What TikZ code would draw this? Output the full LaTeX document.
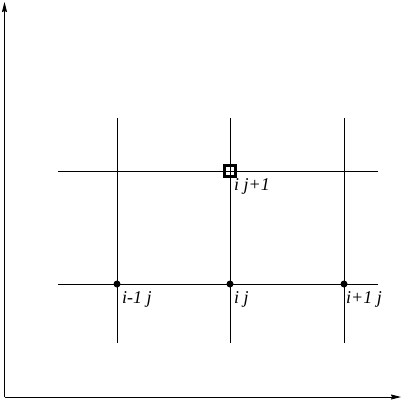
\documentclass[tikz,border=0pt]{standalone}
\usepackage{fontspec}
\setmainfont{Liberation Serif}
\usetikzlibrary{arrows.meta}
\begin{document}
\begin{tikzpicture}[x=1pt,y=-1pt,
  gridline/.style={line width=0.9pt},
  axis/.style={line width=0.9pt,-{Stealth[length=10pt,width=5pt,inset=1pt]}},
  pt/.style={circle,fill=black,inner sep=0pt,minimum size=7pt},
  sq/.style={draw,line width=2.4pt,inner sep=0pt,minimum size=11pt},
  lbl/.style={anchor=west,inner sep=0pt,font=\itshape\fontsize{18}{18}\selectfont}]
\useasboundingbox (0,0) rectangle (402,402);
% axes
\coordinate (o) at (4.5,397);
\coordinate (ytop) at (4.5,2);
\coordinate (xend) at (401,397);
\draw[axis] (o) -- (ytop);
\draw[axis] (o) -- (xend);
% grid
\coordinate (v1t) at (117,118); \coordinate (v1b) at (117,343);
\coordinate (v2t) at (230,118); \coordinate (v2b) at (230,343);
\coordinate (v3t) at (344,118); \coordinate (v3b) at (344,343);
\coordinate (h1l) at (58,171); \coordinate (h1r) at (378,171);
\coordinate (h2l) at (58,284); \coordinate (h2r) at (378,284);
\draw[gridline] (v1t) -- (v1b);
\draw[gridline] (v2t) -- (v2b);
\draw[gridline] (v3t) -- (v3b);
\draw[gridline] (h1l) -- (h1r);
\draw[gridline] (h2l) -- (h2r);
% points
\node[pt] (p1) at (117,284) {};
\node[pt] (p2) at (230,284) {};
\node[pt] (p3) at (344,284) {};
\node[sq] (s) at (230,171) {};
% labels
\node[lbl] (l1) at (122,299) {i-1 j};
\node[lbl] (l2) at (234,299) {i j};
\node[lbl] (l3) at (346,299) {i+1 j};
\node[lbl] (l4) at (234,186) {i j+1};
\end{tikzpicture}
\end{document}
